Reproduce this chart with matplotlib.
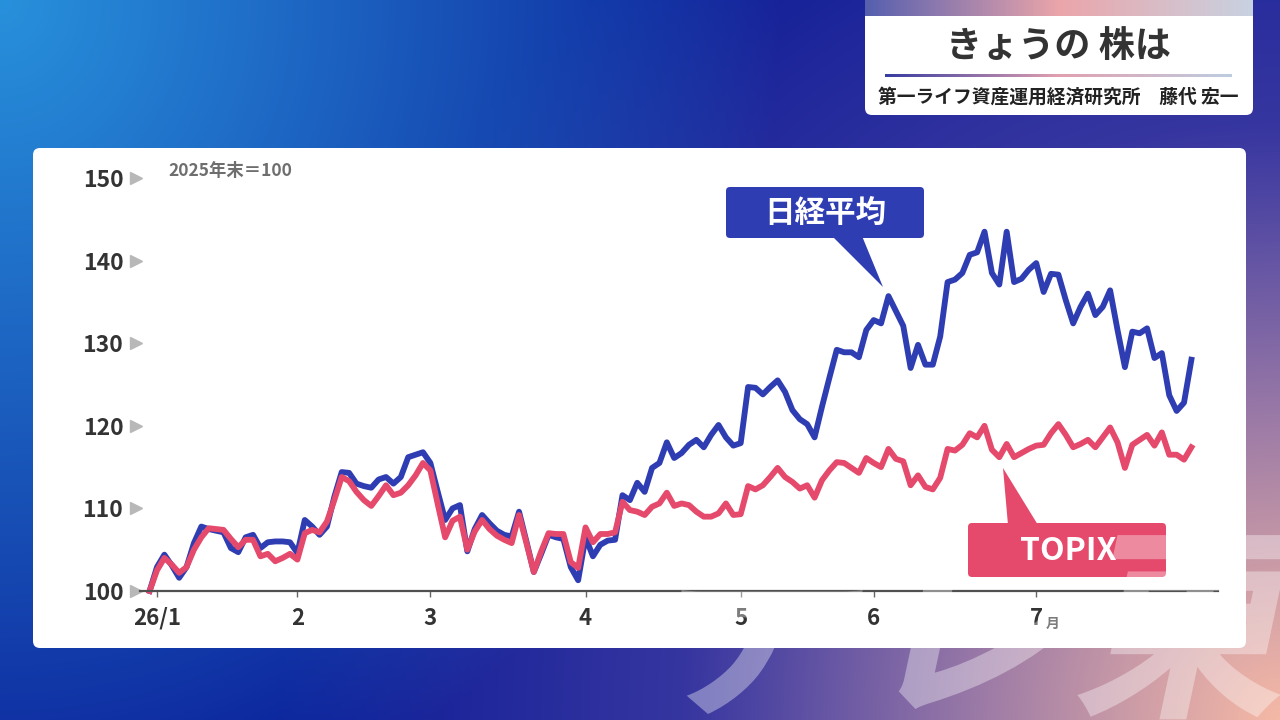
import numpy as np
import matplotlib
matplotlib.use('Agg')
import matplotlib.pyplot as plt
import matplotlib.transforms as mtransforms
from matplotlib.patches import FancyBboxPatch, Polygon, PathPatch
from matplotlib.textpath import TextPath
from matplotlib.font_manager import FontProperties

plt.rcParams['font.family'] = ['Noto Sans CJK JP', 'DejaVu Sans']

# trading-day index values, 2025年末 = 100
nikkei = [100.0, 102.9, 104.4, 103.1, 101.6, 102.9, 105.8, 107.8, 107.5, 107.3,
          107.1, 105.2, 104.7, 106.5, 106.8, 105.2, 105.9, 106.0, 106.0, 105.9,
          104.6, 108.6, 107.8, 106.8, 107.8, 111.4, 114.4, 114.3, 113.0, 112.7,
          112.5, 113.5, 113.8, 113.0, 113.8, 116.2, 116.5, 116.8, 115.5, 112.0,
          108.6, 110.0, 110.4, 104.8, 107.5, 109.2, 108.2, 107.3, 106.8, 106.6,
          109.6, 106.0, 102.3, 104.5, 106.8, 106.5, 106.3, 102.9, 101.3, 106.5,
          104.2, 105.6, 106.1, 106.2, 111.6, 111.0, 113.1, 112.0, 114.9, 115.5,
          118.0, 116.1, 116.7, 117.7, 118.3, 117.4, 118.9, 120.1, 118.6, 117.6,
          117.9, 124.7, 124.6, 123.8, 124.7, 125.5, 124.1, 121.9, 120.8, 120.2,
          118.6, 122.3, 125.8, 129.2, 128.9, 128.9, 128.3, 131.6, 132.8, 132.4,
          135.7, 133.9, 132.1, 127.0, 129.8, 127.4, 127.4, 130.8, 137.4, 137.7,
          138.5, 140.7, 141.0, 143.5, 138.5, 137.1, 143.5, 137.4, 137.8, 138.9,
          139.7, 136.2, 138.4, 138.3, 135.2, 132.4, 134.4, 136.0, 133.4, 134.4,
          136.4, 131.6, 127.1, 131.4, 131.2, 131.8, 128.2, 128.8, 123.7, 121.8,
          122.8, 128.0]
topix = [100.0, 102.5, 104.0, 103.2, 102.2, 102.9, 105.0, 106.5, 107.6, 107.5,
         107.4, 106.3, 105.3, 106.2, 106.2, 104.2, 104.5, 103.6, 104.0, 104.5,
         103.8, 107.0, 107.4, 107.1, 108.4, 111.0, 113.8, 113.3, 112.0, 111.0,
         110.3, 111.5, 112.8, 111.6, 111.9, 112.8, 114.0, 115.5, 114.6, 110.5,
         106.5, 108.5, 109.0, 105.0, 107.2, 108.6, 107.5, 106.7, 106.2, 105.8,
         109.2, 105.8, 102.3, 104.8, 107.0, 106.9, 106.9, 103.5, 102.8, 107.7,
         105.9, 106.9, 106.9, 107.1, 110.8, 109.8, 109.6, 109.2, 110.2, 110.6,
         111.9, 110.3, 110.6, 110.4, 109.6, 109.0, 109.0, 109.4, 110.6, 109.2,
         109.3, 112.7, 112.3, 112.8, 113.8, 114.9, 113.8, 113.2, 112.4, 112.8,
         111.3, 113.4, 114.6, 115.6, 115.5, 114.9, 114.3, 116.1, 115.5, 115.0,
         117.2, 116.0, 115.7, 112.8, 114.0, 112.6, 112.3, 113.7, 117.2, 117.0,
         117.7, 119.1, 118.6, 120.0, 117.1, 116.2, 117.8, 116.2, 116.7, 117.2,
         117.6, 117.7, 119.1, 120.2, 118.9, 117.4, 117.8, 118.3, 117.4, 118.6,
         119.8, 118.0, 114.9, 117.7, 118.3, 118.9, 117.6, 119.2, 116.5, 116.5,
         115.9, 117.4]
days = np.arange(len(nikkei))

month_pos = [1, 20, 38, 59, 80, 98, 120]
month_labels = ['26/1', '2', '3', '4', '5', '6', '7']
y_ticks = [100, 110, 120, 130, 140, 150]

NIKKEI_C = '#2f3db3'
TOPIX_C = '#e5496b'

W, H = 1280, 720
fig = plt.figure(figsize=(12.8, 7.2), dpi=100)

# ---- background (pixel coords, y down)
bg = fig.add_axes([0, 0, 1, 1], zorder=0)
bg.axis('off')
yy, xx = np.mgrid[0:H, 0:W].astype(float)
base = np.array([10, 26, 150]) / 255
c1 = np.array([40, 145, 220]) / 255
c2 = np.array([245, 185, 165]) / 255
c3 = np.array([120, 95, 175]) / 255
r1 = np.hypot(xx, yy * 0.9)
r2 = np.hypot(W - xx, H - yy)
w1 = np.clip(1 - r1 / 780, 0, 1)[..., None] ** 0.9
w2 = (np.clip(1 - r2 / 600, 0, 1) ** 1.2)[..., None]
w3 = np.clip(1 - r2 / 1000, 0, 1)[..., None]
img = np.ones((H, W, 3)) * base
img = img * (1 - w3) + c3 * w3
img = img * (1 - w2) + c2 * w2
img = img * (1 - w1) + c1 * w1
bg.imshow(img, extent=[0, W, H, 0], aspect='auto', zorder=0)

# white chart panel
bg.add_patch(FancyBboxPatch((33, 148), 1213, 500, boxstyle='round,pad=0,rounding_size=7',
                            fc='white', ec='none', zorder=1))

# title box
bg.add_patch(FancyBboxPatch((865, -10), 388, 125, boxstyle='round,pad=0,rounding_size=7',
                            fc='white', ec='none', zorder=1))
t = np.linspace(0, 1, 300)
strip = np.array([[85, 95, 175], [235, 165, 170], [200, 210, 225]]) / 255
strip_img = np.stack([np.interp(t, [0, 0.5, 1], strip[:, k]) for k in range(3)], axis=-1)[None]
bg.imshow(strip_img, extent=[865, 1253, 16, 0], aspect='auto', zorder=2)
uline = np.array([[55, 60, 160], [225, 160, 175], [190, 205, 225]]) / 255
uline_img = np.stack([np.interp(t, [0, 0.5, 1], uline[:, k]) for k in range(3)], axis=-1)[None]
bg.imshow(uline_img, extent=[885, 1232, 77, 74], aspect='auto', zorder=2)
bg.text(1059, 47, 'きょうの 株は', ha='center', va='center', fontsize=26,
        fontweight='bold', color='#333333', zorder=3)
bg.text(1058, 97, '第一ライフ資産運用経済研究所　藤代 宏一', ha='center', va='center',
        fontsize=13.5, fontweight='bold', color='#222222', zorder=3)
bg.set_xlim(0, W)
bg.set_ylim(H, 0)

# ---- chart
ax = fig.add_axes([140 / W, 1 - 591 / H, 1078 / W, 421 / H], zorder=2)
ax.patch.set_alpha(0)
ax.plot(days, nikkei, color=NIKKEI_C, lw=4.2, solid_joinstyle='round', clip_on=False)
ax.plot(days, topix, color=TOPIX_C, lw=4.2, solid_joinstyle='round', clip_on=False)
ax.set_xlim(-1.3, 144.6)
ax.set_ylim(100, 100 + 421 / 8.26)

for s in ['top', 'right', 'left']:
    ax.spines[s].set_visible(False)
ax.spines['bottom'].set_color('#505050')
ax.spines['bottom'].set_linewidth(1.6)

ax.set_xticks(month_pos)
ax.set_xticklabels(month_labels, fontsize=16, fontweight='bold', color='#333333')
ax.tick_params(axis='x', length=4.5, width=1, color='#666666', pad=7)
ax.set_yticks(y_ticks)
ax.set_yticklabels([str(v) for v in y_ticks], fontsize=16.5, fontweight='bold', color='#333333')
ax.tick_params(axis='y', length=0, pad=12)
tri = mtransforms.blended_transform_factory(ax.transAxes, ax.transData)
ax.plot([-0.004] * len(y_ticks), y_ticks, ls='none', marker='>', ms=8, color='#b8b8b8',
        transform=tri, clip_on=False)

ax.text(1053, 624, '月', transform=bg.transData, ha='center', va='center',
        fontsize=10, fontweight='bold', color='#333333')
ax.text(168, 171, '2025年末＝100', transform=bg.transData, ha='left', va='center',
        fontsize=12.5, fontweight='bold', color='#6e6e6e')

# callouts
ax.add_patch(Polygon([(832, 236), (862, 236), (883, 287)], closed=True, fc=NIKKEI_C, ec='none',
                     transform=bg.transData, clip_on=False))
ax.add_patch(FancyBboxPatch((726, 187), 198, 51, boxstyle='round,pad=0,rounding_size=4',
                            fc=NIKKEI_C, ec='none', transform=bg.transData, clip_on=False))
ax.text(825, 213, '日経平均', transform=bg.transData, ha='center', va='center',
        fontsize=22, fontweight='bold', color='white')
ax.add_patch(Polygon([(1008, 525), (1038, 525), (1003, 468)], closed=True, fc=TOPIX_C, ec='none',
                     transform=bg.transData, clip_on=False))
ax.add_patch(FancyBboxPatch((968, 523), 198, 54, boxstyle='round,pad=0,rounding_size=4',
                            fc=TOPIX_C, ec='none', transform=bg.transData, clip_on=False))
ax.text(1068, 551, 'TOPIX', transform=bg.transData, ha='center', va='center',
        fontsize=23, fontweight='bold', color='white')

# ---- watermark on top
ov = fig.add_axes([0, 0, 1, 1], zorder=5)
ov.axis('off')
ov.set_xlim(0, W)
ov.set_ylim(H, 0)
tp = TextPath((0, 0), 'テレ東', size=215, prop=FontProperties(family='Noto Sans CJK JP', weight='bold'))
wm_tr = mtransforms.Affine2D().skew_deg(12, 0).scale(1, -1).translate(640, 700) + ov.transData
ov.add_patch(PathPatch(tp, fc='white', ec='none', alpha=0.36, transform=wm_tr))

fig.savefig('out.png', dpi=100)
